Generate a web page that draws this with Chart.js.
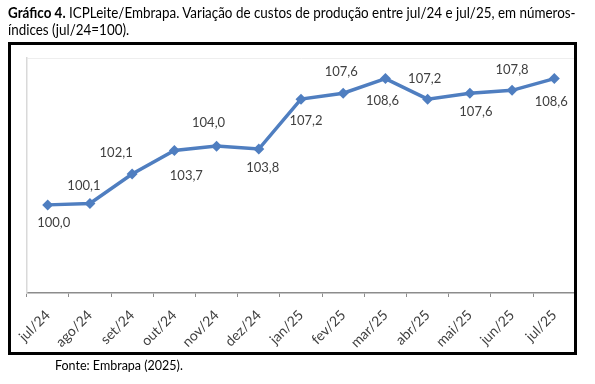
<!DOCTYPE html>
<html><head><meta charset="utf-8">
<script src="https://cdn.jsdelivr.net/npm/chart.js@4"></script>
<style>
html,body{margin:0;padding:0;background:#fff;}
#wrap{position:relative;width:595px;height:384px;overflow:hidden;}
#c{position:absolute;left:0;top:0;}
.t{position:absolute;white-space:nowrap;font-family:Lato,sans-serif;color:#000;transform-origin:0 0;}
#box{position:absolute;left:8px;top:42px;width:563px;height:307px;border:3px solid #000;pointer-events:none;}
</style></head><body>
<div id="wrap">
<canvas id="c" width="595" height="384"></canvas>
<div id="box"></div>
<div class="t" id="t1" style="left:8px;top:4px;font-size:14.5px"><b>Gráfico 4.</b> ICPLeite/Embrapa. Variação de custos de produção entre jul/24 e jul/25, em números-</div>
<div class="t" id="t2" style="left:8px;top:21px;font-size:14.5px">índices (jul/24=100).</div>
<div class="t" id="src" style="left:55px;top:358px;font-size:12.5px">Fonte: Embrapa (2025).</div>
</div>
<script>
const categories = ['jul/24','ago/24','set/24','out/24','nov/24','dez/24','jan/25','fev/25','mar/25','abr/25','mai/25','jun/25','jul/25'];
const indexValues = [100.0,100.1,102.1,103.7,104.0,103.8,107.2,107.6,108.6,107.2,107.6,107.8,108.6];
const yMin = 94;
const yMax = 110;
// label placement relative to each point (px)
const labelOffsets = [[6,18],[-6,-18],[-16,-21],[12,25],[-8,-23],[4,19],[5,22],[-2,-21],[-3,22],[-3,-20],[6,19],[0,-21],[-3,23]];

function fitText(){
  const t1=document.getElementById('t1'), t2=document.getElementById('t2'), s=document.getElementById('src');
  const k=568/t1.offsetWidth;
  t1.style.transform='scaleX('+k+')';
  t2.style.transform='scaleX('+k+')';
  s.style.transform='scaleX('+(128/s.offsetWidth)+')';
}

const labelPlugin = {
  id:'valueLabels',
  afterDatasetsDraw(chart){
    const ctx=chart.ctx;
    const meta=chart.getDatasetMeta(0);
    ctx.save();
    ctx.font='13px Lato, sans-serif';
    ctx.fillStyle='#404040';
    ctx.textAlign='center';
    ctx.textBaseline='middle';
    meta.data.forEach((p,i)=>{
      const v=chart.data.datasets[0].data[i];
      const o=labelOffsets[i];
      ctx.fillText(v.toFixed(1).replace('.',','), p.x+o[0], p.y+o[1]);
    });
    ctx.restore();
  }
};

function draw(){
  fitText();
  new Chart(document.getElementById('c'),{
    type:'line',
    data:{labels:categories,datasets:[{
      data:indexValues,
      borderColor:'#4F7EC0',
      backgroundColor:'#4F7EC0',
      borderWidth:3.5,
      pointStyle:'rectRot',
      pointRadius:5.5,
      pointBorderWidth:0,
      tension:0,
      clip:false
    }]},
    options:{
      responsive:false,
      animation:false,
      devicePixelRatio:1,
      layout:{padding:{left:26.6,right:19.6,top:58,bottom:0}},
      plugins:{legend:{display:false},tooltip:{enabled:false},title:{display:false}},
      scales:{
        x:{
          offset:true,
          grid:{offset:true,drawOnChartArea:false,drawTicks:true,tickLength:4,color:'#8c8c8c',lineWidth:1},
          border:{color:'#8c8c8c',width:1.5},
          ticks:{minRotation:45,maxRotation:45,autoSkip:false,padding:10,color:'#404040',font:{family:'Lato',size:14}},
          afterFit(s){s.height=384-293;}
        },
        y:{
          min:yMin,max:yMax,
          ticks:{display:false,stepSize:16},
          grid:{drawTicks:false,color:(c)=>c.tick && c.tick.value===yMax?'#eeeeee':'rgba(0,0,0,0)'},
          border:{color:'#d9d9d9',width:1.5},
          afterFit(s){s.width=0;}
        }
      }
    },
    plugins:[labelPlugin]
  });
}
if(document.fonts&&document.fonts.ready){document.fonts.ready.then(draw);}else{draw();}
</script>
</body></html>
